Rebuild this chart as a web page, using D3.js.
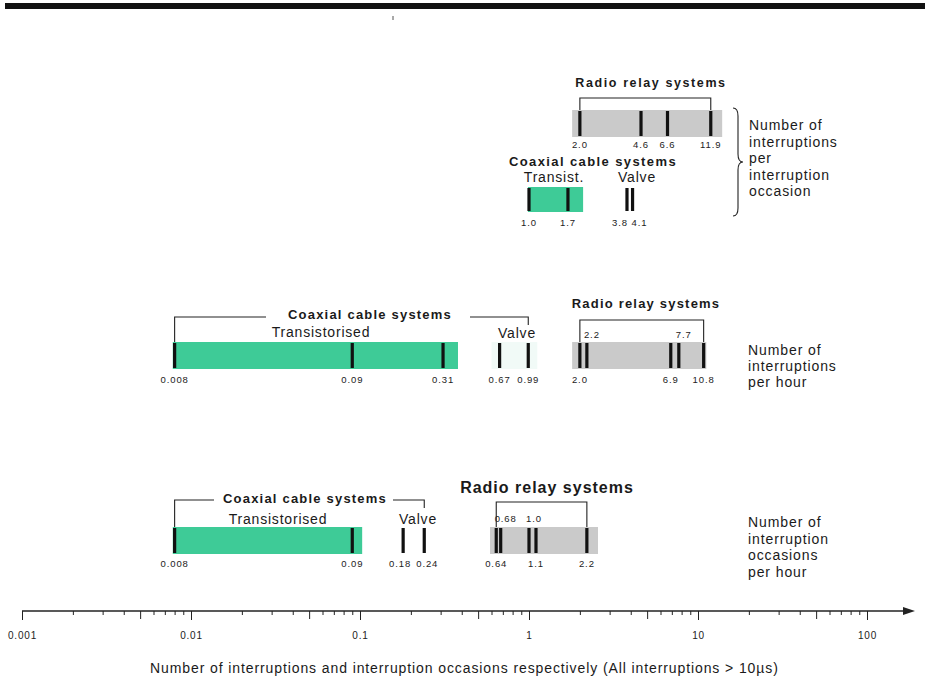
<!DOCTYPE html>
<html>
<head>
<meta charset="utf-8">
<script src="https://cdn.jsdelivr.net/npm/d3@7"></script>
<style>
  html, body { margin: 0; padding: 0; background: #fff; }
  svg { display: block; font-family: "Liberation Sans", Arial, Helvetica, sans-serif; }
</style>
</head>
<body>
<svg id="chart" width="938" height="679"></svg>
<script>
// ---- Data -------------------------------------------------------------
const axisDecades = [0.001, 0.01, 0.1, 1, 10, 100];
const axisDecadeLabels = ["0.001", "0.01", "0.1", "1", "10", "100"];
const minorSteps = [2, 3, 4, 5, 6, 7, 8, 9];

// Number of interruptions per interruption occasion
const radioPerOccasion = [2.0, 4.6, 6.6, 11.9];
const radioPerOccasionBand = [1.8, 13.9];
const coaxTransPerOccasion = [1.0, 1.7];
const coaxTransPerOccasionBand = [0.986, 2.09];
const coaxValvePerOccasion = [3.8, 4.1];

// Number of interruptions per hour
const coaxTransPerHour = [0.008, 0.09, 0.31];
const coaxTransPerHourBand = [0.0078, 0.38];
const coaxValvePerHour = [0.67, 0.99];
const coaxValvePerHourBand = [0.6, 1.12];
const radioPerHour = [2.0, 2.2, 6.9, 7.7, 10.8];
const radioPerHourAbove = [2.2, 7.7];
const radioPerHourBand = [1.8, 11.2];

// Number of interruption occasions per hour
const coaxTransOccHour = [0.008, 0.09];
const coaxTransOccHourBand = [0.0078, 0.103];
const coaxValveOccHour = [0.18, 0.24];
const radioOccHour = [0.64, 0.68, 1.0, 1.1, 2.2];
const radioOccHourAbove = [0.68, 1.0];
const radioOccHourBand = [0.588, 2.56];

// ---- Setup ------------------------------------------------------------
const svg = d3.select("#chart");
const GREEN = "#3ecb97";
const GREY = "#cacaca";
const INK = "#111";

// log axis: 0.001 at the left end, arrow just beyond 100
const x = d3.scaleLog().domain([0.001, 100]).range([22, 867]);
const xEnd = 915;

const fmt = v => (v >= 1 && Number.isInteger(v)) ? v.toFixed(1) : String(v);

// header rule
svg.append("rect").attr("x", 5).attr("y", 3).attr("width", 920).attr("height", 6).attr("fill", INK);
svg.append("line").attr("x1", 393).attr("x2", 393).attr("y1", 16).attr("y2", 20)
  .attr("stroke", "#555").attr("stroke-width", 1);

// ---- Helpers ----------------------------------------------------------
function band(ext, y, h, fill) {
  svg.append("rect")
    .attr("x", x(ext[0])).attr("y", y)
    .attr("width", x(ext[1]) - x(ext[0])).attr("height", h)
    .attr("fill", fill);
}

// value labels: close neighbours in the same row are pushed apart
function placeLabels(g, values, rowY) {
  const xs = values.map(v => x(v));
  values.forEach((v, i) => {
    const gapPrev = i > 0 ? xs[i] - xs[i - 1] : Infinity;
    const gapNext = i < values.length - 1 ? xs[i + 1] - xs[i] : Infinity;
    let tx = xs[i], anchor = "middle";
    if (gapNext < 14) { tx = xs[i] + 1; anchor = "end"; }
    else if (gapPrev < 14) { tx = xs[i] - 1; anchor = "start"; }
    else if (gapNext < 24) { tx = xs[i] - 3; }
    else if (gapPrev < 24) { tx = xs[i] + 3; }
    g.append("text")
      .attr("x", tx)
      .attr("y", rowY)
      .attr("text-anchor", anchor)
      .attr("font-size", 9.5)
      .attr("letter-spacing", 0.9)
      .attr("fill", "#222")
      .text(fmt(v));
  });
}

function marks(values, y, h, labelY, above, aboveY) {
  const g = svg.append("g");
  g.selectAll("rect").data(values).join("rect")
    .attr("x", d => x(d) - 1.6).attr("y", y + 1)
    .attr("width", 3.2).attr("height", h - 2)
    .attr("fill", INK);
  const up = above ? values.filter(v => above.includes(v)) : [];
  const down = values.filter(v => !up.includes(v));
  placeLabels(g, down, labelY);
  const ga = g.append("g").attr("transform", "translate(5,0)");
  placeLabels(ga, up, aboveY);
}

function text(str, tx, ty, opts = {}) {
  return svg.append("text")
    .attr("x", tx).attr("y", ty)
    .attr("text-anchor", opts.anchor || "middle")
    .attr("font-size", opts.size || 14)
    .attr("font-weight", opts.bold ? "bold" : "normal")
    .attr("letter-spacing", opts.ls !== undefined ? opts.ls : 0.8)
    .attr("fill", "#1a1a1a")
    .text(str);
}

function line(pts) {
  svg.append("path")
    .attr("d", d3.line()(pts))
    .attr("fill", "none").attr("stroke", "#222").attr("stroke-width", 1.1);
}

function sideNote(lines, tx, ty, step) {
  const t = svg.append("text").attr("x", tx).attr("y", ty)
    .attr("font-size", 14).attr("letter-spacing", 0.9).attr("fill", "#1a1a1a");
  lines.forEach((s, i) => t.append("tspan").attr("x", tx).attr("dy", i ? step : 0).text(s));
}

// ---- Interruptions per interruption occasion ----------------------------
text("Radio relay systems", 651, 87, { bold: true, size: 12.5, ls: 1.6 });
line([[x(radioPerOccasion[0]), 110], [x(radioPerOccasion[0]), 98],
      [x(radioPerOccasion[3]), 98], [x(radioPerOccasion[3]), 110]]);
band(radioPerOccasionBand, 110, 27, GREY);
marks(radioPerOccasion, 110, 27, 148);

text("Coaxial cable systems", 593, 166, { bold: true, size: 13, ls: 1.4 });
text("Transist.", 554, 182);
text("Valve", 637, 182);
band(coaxTransPerOccasionBand, 187, 25, GREEN);
marks(coaxTransPerOccasion, 187, 25, 226);
marks(coaxValvePerOccasion, 187, 25, 226);

svg.append("path")
  .attr("d", "M733,108 Q738,108 738,116 L738,154 Q738,162 743,162 Q738,162 738,170 L738,208 Q738,216 733,216")
  .attr("fill", "none").attr("stroke", "#222").attr("stroke-width", 1.1);
sideNote(["Number of", "interruptions", "per", "interruption", "occasion"], 749, 130, 16.5);

// ---- Interruptions per hour -------------------------------------------
text("Coaxial cable systems", 370, 319, { bold: true, size: 13, ls: 1.2 });
line([[x(coaxTransPerHour[0]), 342], [x(coaxTransPerHour[0]), 317], [266, 317]]);
line([[470, 317], [x(coaxValvePerHour[1]), 317], [x(coaxValvePerHour[1]), 325]]);
text("Transistorised", 321, 337);
text("Valve", 517, 338);
band(coaxTransPerHourBand, 342, 27, GREEN);
band(coaxValvePerHourBand, 342, 27, "#f1faf7");
marks(coaxTransPerHour, 342, 27, 383);
marks(coaxValvePerHour, 342, 27, 383);

text("Radio relay systems", 646, 308, { bold: true, size: 13, ls: 1.2 });
line([[x(radioPerHour[0]), 342], [x(radioPerHour[0]), 320],
      [x(radioPerHour[4]), 320], [x(radioPerHour[4]), 342]]);
band(radioPerHourBand, 342, 27, GREY);
marks(radioPerHour, 342, 27, 383, radioPerHourAbove, 338);

sideNote(["Number of", "interruptions", "per hour"], 748, 355, 16);

// ---- Interruption occasions per hour ------------------------------------
text("Coaxial cable systems", 305, 503, { bold: true, size: 13, ls: 1.2 });
line([[x(coaxTransOccHour[0]), 527], [x(coaxTransOccHour[0]), 500], [214, 500]]);
line([[393, 500], [x(coaxValveOccHour[1]), 500], [x(coaxValveOccHour[1]), 508]]);
text("Transistorised", 278, 524);
text("Valve", 418, 524);
band(coaxTransOccHourBand, 527, 27, GREEN);
marks(coaxTransOccHour, 527, 27, 567);
marks(coaxValveOccHour, 527, 27, 567);

text("Radio relay systems", 547, 493, { bold: true, size: 16, ls: 1.0 });
line([[x(radioOccHour[0]), 527], [x(radioOccHour[0]), 502],
      [x(radioOccHour[4]), 502], [x(radioOccHour[4]), 527]]);
band(radioOccHourBand, 527, 27, GREY);
marks(radioOccHour, 527, 27, 567, radioOccHourAbove, 522);

sideNote(["Number of", "interruption", "occasions", "per hour"], 748, 527, 16.7);

// ---- Logarithmic axis -------------------------------------------------
const tickValues = [];
axisDecades.forEach((d, i) => {
  tickValues.push(d);
  if (i < axisDecades.length - 1) minorSteps.forEach(m => tickValues.push(+(d * m).toPrecision(3)));
});
const isDecade = v => axisDecades.includes(v);
const isFive = v => Math.abs(v / Math.pow(10, Math.floor(Math.log10(v) + 1e-9)) - 5) < 1e-6;

const axisG = svg.append("g").attr("transform", "translate(0,611)");
const axis = d3.axisBottom(x)
  .tickValues(tickValues)
  .tickSizeOuter(0)
  .tickSizeInner(4)
  .tickPadding(17)
  .tickFormat(v => { const i = axisDecades.indexOf(v); return i >= 0 ? axisDecadeLabels[i] : ""; });
axisG.call(axis);
axisG.select(".domain").remove();
axisG.selectAll(".tick line")
  .attr("y2", d => isDecade(d) ? 9 : (isFive(d) ? 8 : 4))
  .attr("stroke", "#222").attr("stroke-width", 1);
axisG.selectAll(".tick text")
  .attr("font-size", 10).attr("letter-spacing", 0.8).attr("fill", "#222")
  .attr("font-family", "Liberation Sans, Arial, sans-serif");
axisG.append("line").attr("x1", x(0.001)).attr("x2", xEnd - 6)
  .attr("stroke", "#222").attr("stroke-width", 1.6);
axisG.append("path")
  .attr("d", `M${xEnd},0 L${xEnd - 12},-4 L${xEnd - 12},4 Z`)
  .attr("fill", "#222");

text("Number of interruptions and interruption occasions respectively (All interruptions > 10\u00b5s)",
  150, 673, { anchor: "start", size: 14, ls: 0.9 });
</script>
</body>
</html>
